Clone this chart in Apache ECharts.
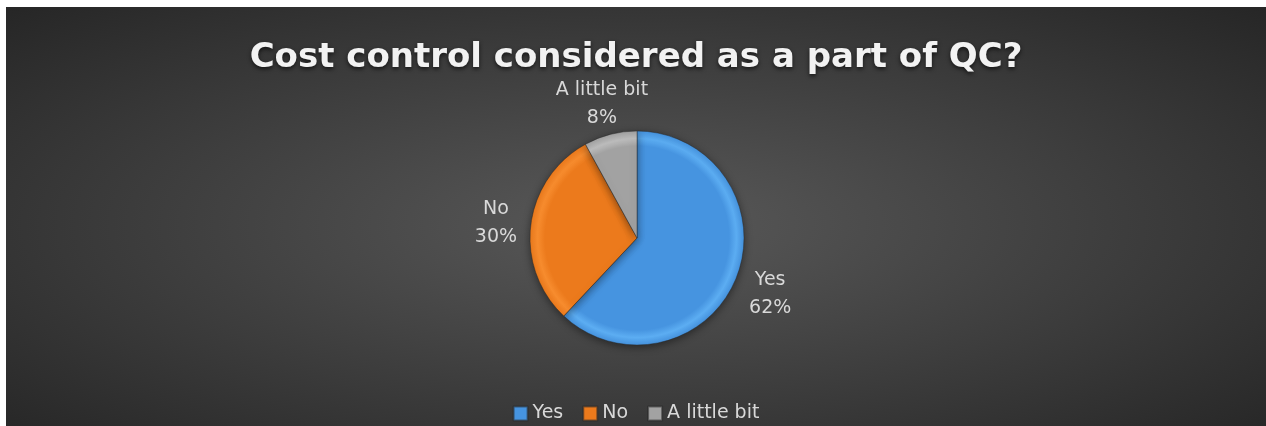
<!DOCTYPE html>
<html>
<head>
<meta charset="utf-8">
<script src="https://cdn.jsdelivr.net/npm/echarts@6/dist/echarts.min.js"></script>
<style>
  html, body { margin: 0; padding: 0; background: #ffffff; }
  #chart {
    position: absolute; left: 6px; top: 7px; width: 1260px; height: 419px;
    background: radial-gradient(ellipse farthest-corner at 50% 52%, #595959 0%, #3d3d3d 55%, #262626 100%);
  }
</style>
</head>
<body>
<div id="chart"></div>
<script>
const titleText = 'Cost control considered as a part of QC?';
const categories = ['Yes', 'No', 'A little bit'];
const values = [62, 30, 8];
const baseColors = ['#4694e0', '#ec7a1c', '#a2a2a2'];
const rimColors = ['#5cadf2', '#f78c2e', '#bdbdbd'];

const chart = echarts.init(document.getElementById('chart'), null, { renderer: 'canvas' });
const font = '"DejaVu Sans", "Open Sans", sans-serif';
const pieCenter = [631, 231];
const pieRadius = 107;
const total = values.reduce((a, b) => a + b, 0);

function sliceFill(i) {
  return {
    type: 'radial', global: true,
    x: pieCenter[0], y: pieCenter[1], r: pieRadius,
    colorStops: [
      { offset: 0, color: baseColors[i] },
      { offset: 0.86, color: baseColors[i] },
      { offset: 0.93, color: rimColors[i] },
      { offset: 1, color: baseColors[i] }
    ]
  };
}

chart.setOption({
  backgroundColor: 'transparent',
  animation: false,
  title: {
    text: titleText,
    left: 'center',
    top: 29,
    textStyle: {
      fontFamily: font,
      fontWeight: 'bold',
      fontSize: 34,
      color: '#f2f2f2',
      textShadowColor: 'rgba(0,0,0,0.65)',
      textShadowBlur: 4,
      textShadowOffsetY: 2
    }
  },
  legend: {
    bottom: -2,
    left: 'center',
    itemWidth: 14,
    itemHeight: 14,
    itemGap: 19,
    icon: 'rect',
    textStyle: { fontFamily: font, fontSize: 19, color: '#d9d9d9' },
    data: categories.map((c, i) => ({ name: c, itemStyle: { color: baseColors[i] } }))
  },
  series: [{
    type: 'pie',
    center: pieCenter,
    radius: pieRadius,
    startAngle: 90,
    clockwise: true,
    data: categories.map((c, i) => ({
      name: c,
      value: values[i],
      itemStyle: { color: sliceFill(i) }
    })),
    itemStyle: {
      borderColor: 'rgba(40,40,40,0.55)',
      borderWidth: 0.8,
      shadowBlur: 8,
      shadowColor: 'rgba(0,0,0,0.45)',
      shadowOffsetY: 2
    },
    label: {
      show: true,
      position: 'outside',
      formatter: '{b}\n{d}%',
      fontFamily: font,
      fontSize: 19,
      lineHeight: 28,
      color: '#d9d9d9'
    },
    labelLine: { show: false, length: 12, length2: 0 },
    labelLayout: function (p) {
      // place label box just outside the slice, along the slice's mid angle
      let cum = 0;
      for (let k = 0; k < p.dataIndex; k++) cum += values[k];
      const frac = (cum + values[p.dataIndex] / 2) / total;
      const ang = frac * 2 * Math.PI; // clockwise from 12 o'clock
      const dx = Math.sin(ang), dy = -Math.cos(ang);
      const hw = p.labelRect.width / 2, hh = p.labelRect.height / 2 * 0.35;
      const d = pieRadius + 13 + Math.abs(hw * dx) + Math.abs(hh * dy);
      return {
        x: pieCenter[0] + d * dx,
        y: pieCenter[1] + d * dy + 3,
        align: 'center',
        verticalAlign: 'middle'
      };
    },
    emphasis: { disabled: true }
  }]
});
</script>
</body>
</html>
